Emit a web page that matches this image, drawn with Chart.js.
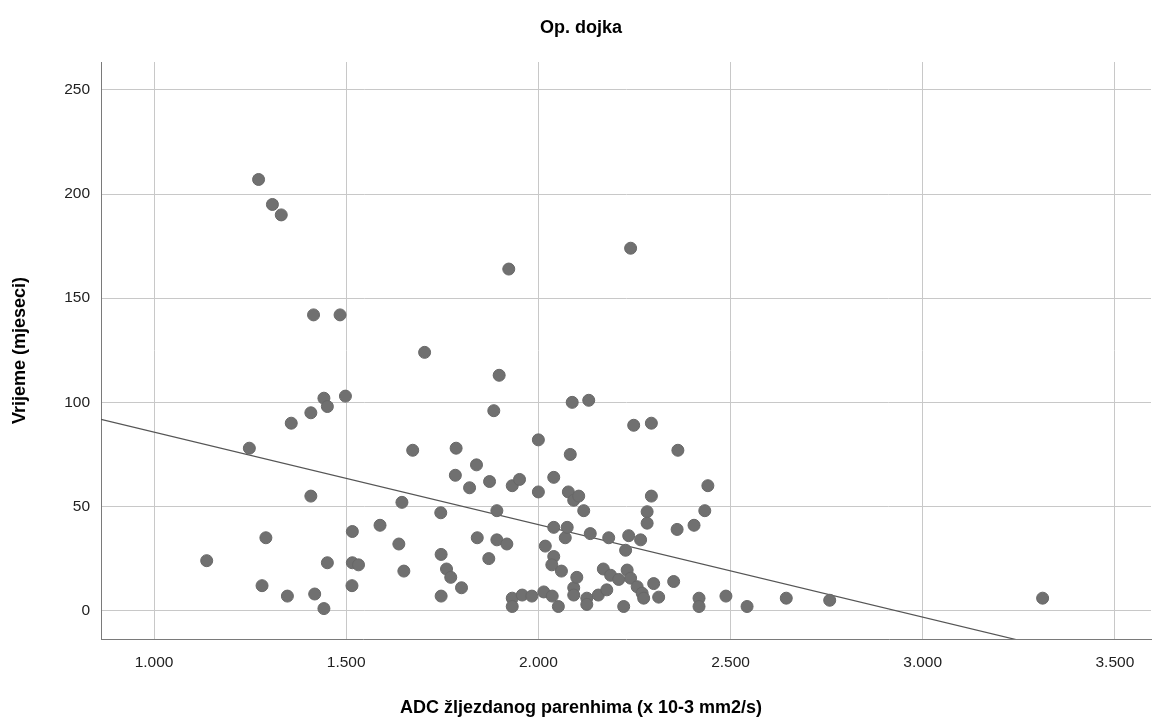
<!DOCTYPE html>
<html>
<head>
<meta charset="utf-8">
<script src="https://cdn.jsdelivr.net/npm/chart.js@4.4.1/dist/chart.umd.min.js"></script>
<style>
  html, body { margin: 0; padding: 0; background: #fff; }
</style>
</head>
<body>
<canvas id="myChart" width="1158" height="725"></canvas>
<script>
// ADC values (x 10-3 mm2/s)
const adcValues = [
  1.137, 1.248, 1.272, 1.281, 1.291, 1.308, 1.331, 1.347, 1.357, 1.408,
  1.408, 1.415, 1.418, 1.442, 1.442, 1.451, 1.451, 1.484, 1.498, 1.515,
  1.516, 1.516, 1.532, 1.588, 1.637, 1.645, 1.650, 1.673, 1.704, 1.746,
  1.747, 1.747, 1.761, 1.772, 1.784, 1.786, 1.800, 1.821, 1.839, 1.841,
  1.871, 1.873, 1.884, 1.892, 1.892, 1.898, 1.918, 1.923, 1.932, 1.932,
  1.932, 1.951, 1.958, 1.983, 2.000, 2.000, 2.014, 2.018, 2.040, 2.035,
  2.060, 2.036, 2.040, 2.040, 2.052, 2.070, 2.075, 2.078, 2.083, 2.088,
  2.092, 2.092, 2.092, 2.100, 2.105, 2.118, 2.126, 2.126, 2.131, 2.135,
  2.156, 2.169, 2.178, 2.183, 2.188, 2.209, 2.222, 2.227, 2.231, 2.235,
  2.240, 2.240, 2.248, 2.257, 2.266, 2.270, 2.274, 2.283, 2.283, 2.294,
  2.294, 2.300, 2.313, 2.352, 2.361, 2.363, 2.405, 2.418, 2.418, 2.433,
  2.441, 2.488, 2.543, 2.645, 2.758, 3.312
]
// time in months, same order
const monthValues = [
  24, 78, 207, 12, 35, 195, 190, 7, 90, 95,
  55, 142, 8, 102, 1, 98, 23, 142, 103, 12,
  38, 23, 22, 41, 32, 52, 19, 77, 124, 47,
  27, 7, 20, 16, 65, 78, 11, 59, 70, 35,
  25, 62, 96, 48, 34, 113, 32, 164, 60, 6,
  2, 63, 7.5, 7, 82, 57, 9, 31, 26, 22,
  19, 7, 64, 40, 2, 35, 40, 57, 75, 100,
  53, 11, 7.5, 16, 55, 48, 6, 3, 101, 37,
  7.5, 20, 10, 35, 17, 15, 2, 29, 19.5, 36,
  15.6, 174, 89, 11.5, 34, 8.4, 6, 47.5, 42, 90,
  55, 13, 6.5, 14, 39, 77, 41, 6, 2, 48,
  60, 7, 2, 6, 5, 6
]

const xTicks = [1.0, 1.5, 2.0, 2.5, 3.0, 3.5]
const yTicks = [0, 50, 100, 150, 200, 250]
const xRange = [0.862, 3.594]
const yRange = [-13.6, 263.4]

// fit line
const fitIntercept = 130.1
const fitSlope = -44.4

const fontFamily = "'Liberation Sans', Arial, sans-serif"
const canvas = document.getElementById('myChart')

const points = adcValues.map((x, i) => ({x: x, y: monthValues[i]}))
const fitLine = xRange.map(x => ({x: x, y: fitIntercept + fitSlope * x}))

const config = {
    type: 'scatter',
    data: {
        datasets: [{
            label: 'Op. dojka',
            data: points,
            backgroundColor: '#707070',
            borderColor: '#686868',
            borderWidth: 1,
            pointRadius: 6,
            order: 0
        }, {
            type: 'line',
            label: 'fit',
            data: fitLine,
            borderColor: '#555555',
            borderWidth: 1.2,
            pointRadius: 0,
            fill: false,
            order: 1
        }]
    },
    options: {
        responsive: false,
        animation: false,
        devicePixelRatio: 1,
        layout: {
            padding: {left: 6, right: 2, top: 0, bottom: 0}
        },
        plugins: {
            legend: {display: false},
            tooltip: {enabled: false},
            title: {
                display: true,
                text: 'Op. dojka',
                color: '#000',
                font: {family: fontFamily, size: 18, weight: 'bold', lineHeight: 1},
                padding: {top: 19, bottom: 25}
            },
            subtitle: {
                display: true,
                position: 'bottom',
                text: 'ADC žljezdanog parenhima (x 10-3 mm2/s)',
                color: '#000',
                font: {family: fontFamily, size: 18, weight: 'bold', lineHeight: 1},
                padding: {top: 20, bottom: 8}
            }
        },
        scales: {
            x: {
                type: 'linear',
                min: xRange[0],
                max: xRange[1],
                afterBuildTicks: scale => { scale.ticks = xTicks.map(v => ({value: v})) },
                afterFit: scale => { scale.height = 40 },
                ticks: {
                    color: '#222',
                    padding: 14,
                    font: {family: fontFamily, size: 15.5},
                    callback: v => v.toFixed(3)
                },
                grid: {color: '#c8c8c8', lineWidth: 1, drawTicks: false},
                border: {color: '#7a7a7a', width: 1}
            },
            y: {
                type: 'linear',
                min: yRange[0],
                max: yRange[1],
                afterBuildTicks: scale => { scale.ticks = yTicks.map(v => ({value: v})) },
                afterFit: scale => { scale.width = 95 },
                title: {
                    display: true,
                    text: 'Vrijeme (mjeseci)',
                    color: '#000',
                    font: {family: fontFamily, size: 18, weight: 'bold', lineHeight: 1},
                    padding: {top: 5, bottom: 0}
                },
                ticks: {
                    color: '#222',
                    padding: 11,
                    font: {family: fontFamily, size: 15.5}
                },
                grid: {color: '#c8c8c8', lineWidth: 1, drawTicks: false},
                border: {color: '#7a7a7a', width: 1}
            }
        }
    }
}

new Chart(canvas, config)
</script>
</body>
</html>
